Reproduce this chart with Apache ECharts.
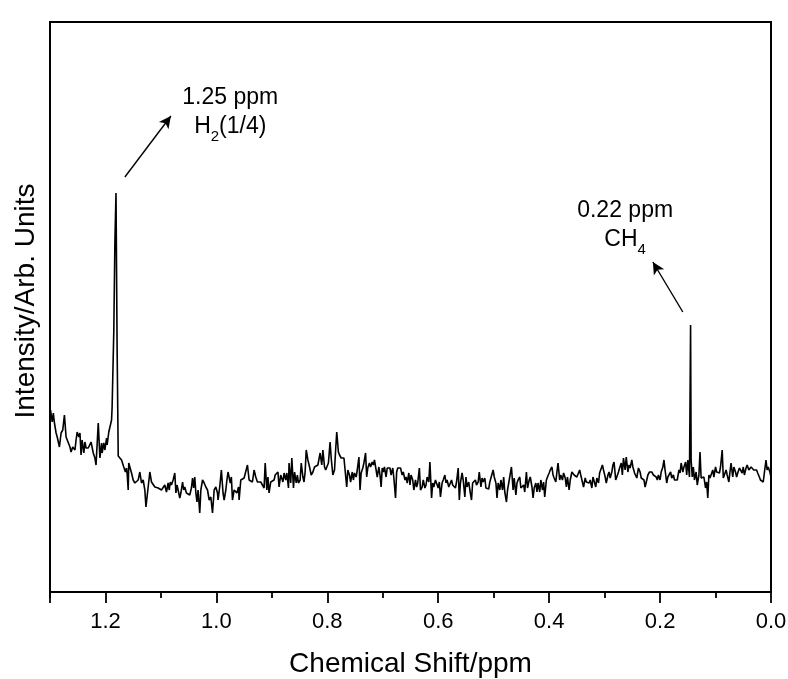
<!DOCTYPE html>
<html><head><meta charset="utf-8">
<script src="https://cdn.jsdelivr.net/npm/echarts@6/dist/echarts.min.js"></script>
<style>html,body{margin:0;padding:0;background:#fff}#c{width:788px;height:679px}</style>
</head><body><div id="c"></div><script>
// Chemical shift (ppm) sample positions
const shift = [
1.299,1.296,1.294,1.292,1.289,1.287,1.283,1.280,1.277,1.274,1.271,1.268,1.264,1.262,1.259,1.255,1.253,1.251,1.248,1.246,
1.244,1.242,1.239,1.237,1.235,1.231,1.228,1.226,1.222,1.219,1.217,1.213,1.210,1.207,1.206,1.203,1.201,1.198,1.197,1.194,
1.191,1.189,1.188,1.185,1.183,1.181,1.179,1.177,
1.174,1.171,1.168,1.167,1.164,1.162,1.161,1.159,1.158,1.155,1.153,1.150,1.147,1.144,1.141,1.138,1.135,1.132,1.129,1.127,
1.125,1.123,1.120,1.117,1.114,1.111,1.108,1.105,1.102,1.099,1.096,1.093,1.090,1.087,1.085,1.083,1.081,1.078,1.075,1.073,
1.071,1.069,1.066,1.064,1.061,1.059,1.057,1.054,1.051,1.048,1.045,1.043,1.041,1.039,1.037,1.035,
1.033,1.030,1.028,1.025,1.022,1.019,1.016,1.013,1.010,1.007,1.004,1.001,0.998,0.997,0.994,0.991,0.988,0.986,0.983,0.981,
0.979,0.975,0.973,0.971,0.968,0.966,0.963,0.960,0.959,0.956,0.953,0.950,0.947,0.944,0.941,0.938,0.935,0.932,0.929,0.926,
0.923,0.920,0.917,0.914,0.912,0.909,0.907,0.905,0.902,0.899,0.896,0.894,0.891,0.889,0.887,0.884,0.882,0.880,0.878,0.875,
0.873,0.870,0.869,0.866,0.864,0.861,0.859,0.856,0.854,0.852,0.849,0.847,0.844,0.842,0.840,0.838,0.835,0.832,0.829,0.826,
0.823,0.820,0.817,0.815,0.813,0.810,0.808,0.805,0.803,0.801,0.798,0.795,0.793,0.790,0.787,0.785,0.783,0.780,0.778,0.775,
0.773,0.770,
0.768,0.765,0.763,0.760,0.758,0.755,0.753,0.751,0.748,0.746,0.743,0.741,0.739,0.736,0.734,0.731,0.729,0.727,0.724,0.722,
0.719,0.717,0.715,0.712,0.710,0.707,0.705,0.703,0.701,0.699,0.697,0.694,0.692,0.689,0.687,0.685,0.682,0.680,0.677,0.675,
0.673,0.670,0.668,0.665,0.663,0.660,0.658,0.656,0.653,0.651,0.649,0.646,0.644,0.641,0.639,0.637,0.634,0.632,0.629,0.627,
0.624,0.622,0.620,0.617,0.615,0.612,0.610,0.608,0.605,0.603,0.600,0.598,0.596,0.593,0.591,0.588,0.586,0.584,0.581,0.579,
0.576,0.574,0.572,0.569,0.567,0.564,0.562,0.560,0.557,0.555,0.552,0.550,0.548,0.545,0.543,0.540,0.538,0.536,0.533,0.531,
0.528,0.526,0.523,0.521,0.519,0.516,0.514,0.512,0.509,0.507,0.504,
0.501,0.499,0.496,0.494,0.492,0.489,0.487,0.484,0.482,0.480,0.477,0.475,0.472,0.470,0.468,0.465,0.463,0.460,0.458,0.456,
0.453,0.451,0.448,0.446,0.444,0.441,0.439,0.436,0.434,0.431,0.429,0.427,0.424,0.422,0.420,0.417,0.415,0.412,0.410,0.408,
0.405,0.403,0.400,0.398,0.395,0.393,0.391,0.388,0.386,0.384,0.381,0.379,0.376,0.374,0.371,0.369,0.367,0.364,0.362,0.359,
0.357,0.355,0.352,0.350,0.347,0.345,0.343,0.340,0.338,0.335,0.333,0.331,0.328,0.326,0.323,0.321,0.319,0.316,0.314,0.311,
0.309,0.307,0.304,0.302,0.299,0.297,0.294,0.292,0.290,0.287,0.285,0.283,0.280,0.278,0.275,0.273,0.270,0.268,0.266,0.263,
0.261,0.258,0.256,0.254,0.251,0.249,0.246,0.244,0.242,0.239,
0.236,0.234,0.231,0.229,0.227,0.224,0.222,0.219,0.217,0.215,0.212,0.210,0.207,0.205,0.203,0.200,0.198,0.195,0.193,0.191,
0.188,0.186,0.183,0.181,0.179,0.176,0.174,0.171,0.169,0.166,0.164,0.162,0.159,0.157,0.154,0.152,0.150,0.147,0.145,
0.144,0.142,0.140,0.138,0.135,0.133,0.130,0.128,0.126,0.123,0.121,0.118,0.116,0.114,0.112,0.110,0.108,0.105,0.103,0.100,
0.098,0.096,0.093,0.091,0.088,0.086,0.084,0.081,0.079,0.076,0.074,0.072,0.069,0.067,0.064,0.062,0.060,0.057,0.055,0.052,
0.050,0.048,0.045,0.043,0.040,0.038,0.036,0.033,0.031,0.028,0.026,0.024,0.021,0.019,0.016,0.014,0.012,0.009,0.007,0.005,
0.002,0.000
];
// Intensity (arb. units) at each shift
const intensity = [
182,170,179,169,159,155,145,159,162,177,155,155,145,140,145,142,152,160,155,159,
137,152,139,150,144,144,145,150,139,134,127,169,134,149,139,149,142,154,147,160,
160,172,185,260,350,399,245,136,
134,132,130,125,120,124,119,102,129,129,119,112,109,110,112,120,109,112,102,85,
95,97,120,110,109,105,107,104,105,102,100,107,100,109,102,110,107,112,119,99,
107,102,94,99,110,102,105,99,100,97,104,114,104,115,99,90,
102,79,102,112,109,105,102,92,95,79,102,105,99,92,105,122,99,92,102,112,
120,109,115,92,102,102,99,105,92,112,112,114,112,127,112,110,110,122,115,110,
112,110,109,104,129,102,115,99,110,109,112,117,115,120,105,117,115,110,119,112,
119,104,129,109,134,104,120,109,117,109,112,129,115,110,120,142,132,125,117,120,
125,125,127,125,139,127,142,125,122,122,129,150,134,117,122,142,160,140,137,134,
135,134,
135,105,122,117,110,120,112,119,115,122,135,102,119,124,129,139,115,124,129,125,
130,127,132,122,115,125,117,105,124,120,125,115,124,122,124,117,124,114,94,120,
124,122,124,117,120,112,115,109,119,107,117,112,102,112,105,109,124,102,105,112,
104,107,115,110,130,94,109,105,112,112,104,110,95,109,112,117,109,112,105,104,
112,107,109,104,110,124,92,109,119,112,95,115,105,110,102,92,109,109,112,107,
110,120,105,114,110,114,104,104,103,110,112,
122,115,109,94,109,102,112,102,115,100,90,102,112,112,125,102,114,97,109,112,
115,104,102,107,100,120,104,112,115,105,94,104,109,100,109,100,112,102,110,95,
112,115,119,122,125,117,114,110,120,129,112,117,112,119,114,105,115,102,112,120,
122,117,119,115,114,122,117,117,105,114,110,112,109,112,104,115,117,105,114,109,
119,120,127,122,115,109,117,120,114,120,127,130,112,115,120,124,129,117,134,122,
135,120,127,124,132,125,119,117,114,124,
120,114,115,112,105,112,117,120,122,120,117,119,115,112,117,112,120,125,132,122,
109,115,114,120,114,117,112,114,112,122,119,129,120,125,130,117,132,115,267,
132,115,125,112,120,107,117,140,114,112,115,104,110,94,117,114,112,122,115,125,
120,122,119,125,142,114,112,122,117,110,120,129,115,125,120,115,119,124,125,119,
125,117,124,127,122,120,125,124,122,120,122,119,115,112,114,110,119,132,122,125,
120,115
];
// Tick labels shown on the shift axis
const tickValues = [1.2, 1.0, 0.8, 0.6, 0.4, 0.2, 0.0];
// Annotation arrows: [from, to] in [ppm, intensity]
const arrowFrom = [[1.165, 415], [0.159, 280]];
const arrowTo = [[1.082, 476], [0.213, 330]];
// Annotation texts and their anchor [ppm, intensity]
const noteText = ['1.25 ppm\nH{s|2}(1/4)', '0.22 ppm\nCH{s|4}'];
const noteAt = [[0.975, 480], [0.263, 367]];

const FONT = '"Liberation Sans", Arial, Helvetica, sans-serif';
const data = shift.map((x, i) => [x, intensity[i]]);

const chart = echarts.init(document.getElementById('c'), null, {renderer: 'canvas'});
chart.setOption({
  animation: false,
  backgroundColor: '#fff',
  grid: {left: 50, right: 17, top: 22, bottom: 87, outerBoundsMode: 'none', containLabel: false,
    show: true, borderColor: '#000', borderWidth: 2, backgroundColor: 'transparent'},
  xAxis: {
    type: 'value', inverse: true, min: 0, max: 1.3, interval: 0.2,
    name: 'Chemical Shift/ppm', nameLocation: 'middle', nameGap: 58,
    nameTextStyle: {fontSize: 28, color: '#000', fontFamily: FONT},
    axisLine: {show: true, onZero: false, lineStyle: {color: '#000', width: 2}},
    axisTick: {show: true, length: 11, lineStyle: {color: '#000', width: 1.8}},
    minorTick: {show: true, splitNumber: 2, length: 6, lineStyle: {color: '#000', width: 1.8}},
    axisLabel: {fontSize: 22, color: '#000', fontFamily: FONT, margin: 19, showMaxLabel: false,
      formatter: v => tickValues.some(t => Math.abs(t - v) < 1e-6) ? v.toFixed(1) : ''},
    splitLine: {show: false}, minorSplitLine: {show: false}
  },
  yAxis: {
    type: 'value', min: 0, max: 570,
    name: 'Intensity/Arb. Units', nameLocation: 'middle', nameGap: 10,
    nameTextStyle: {fontSize: 28, color: '#000', fontFamily: FONT, padding: [0, 0, 0, 12]},
    axisLine: {show: true, lineStyle: {color: '#000', width: 2}},
    axisTick: {show: false}, axisLabel: {show: false}, splitLine: {show: false}
  },
  series: [{
    type: 'line', data: data, showSymbol: false, symbol: 'none',
    lineStyle: {color: '#000', width: 1.6}, itemStyle: {color: '#000'},
    markLine: {
      silent: true, symbol: ['none', 'arrow'], symbolSize: [9, 12],
      label: {show: false},
      lineStyle: {color: '#000', width: 1.4, type: 'solid'},
      emphasis: {disabled: true},
      data: arrowFrom.map((f, i) => [{coord: f}, {coord: arrowTo[i]}])
    },
    markPoint: {
      silent: true, symbol: 'circle', symbolSize: 1,
      itemStyle: {color: 'rgba(0,0,0,0)'},
      label: {
        show: true, position: 'inside', color: '#000', fontSize: 23, fontFamily: FONT,
        lineHeight: 29, align: 'center',
        rich: {s: {fontSize: 15, fontFamily: FONT, color: '#000', verticalAlign: 'bottom', padding: [0, 0, -3, 0]}}
      },
      data: noteAt.map((c, i) => ({coord: c, label: {formatter: noteText[i]}}))
    }
  }]
});
</script></body></html>
